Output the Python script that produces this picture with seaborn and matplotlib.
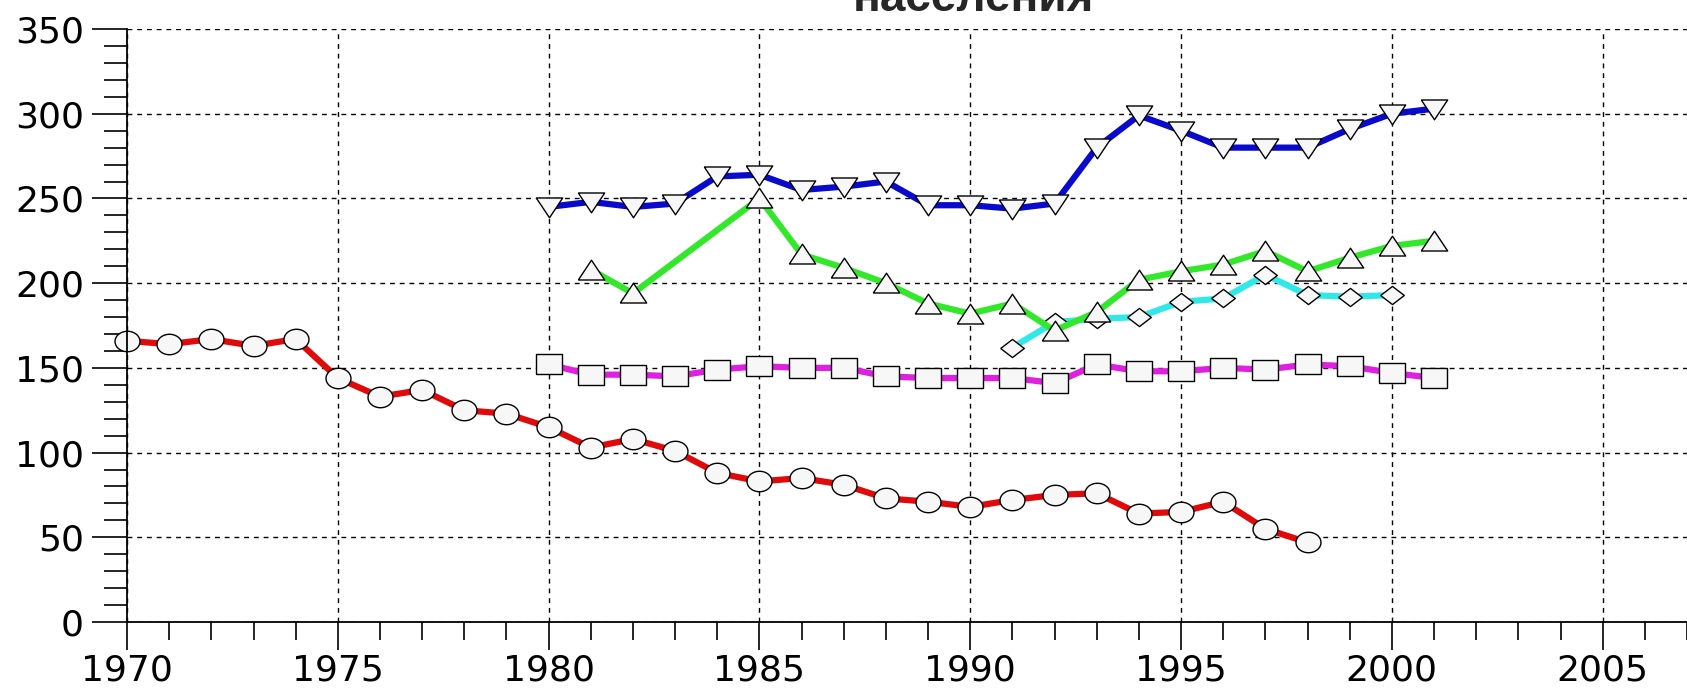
import numpy as np
import matplotlib
matplotlib.use("Agg")
import matplotlib.pyplot as plt
from matplotlib.ticker import MultipleLocator
import seaborn as sns

# --- data ---
years_red = list(range(1970, 1999))
red_vals = [166, 164, 167, 163, 167, 144, 133, 137, 125, 123,
            115, 103, 108, 101, 88, 83, 85, 81, 73, 71,
            68, 72, 75, 76, 64, 65, 71, 55, 47]

years_blue = list(range(1980, 2002))
blue_vals = [245, 248, 245, 247, 263, 264, 255, 257, 260, 246,
             246, 244, 247, 280, 299, 290, 280, 280, 280, 291,
             300, 303]

years_green = [1981, 1982, 1985, 1986, 1987, 1988, 1989, 1990, 1991, 1992,
               1993, 1994, 1995, 1996, 1997, 1998, 1999, 2000, 2001]
green_vals = [208, 194, 250, 217, 209, 200, 188, 182, 188, 172,
              183, 202, 207, 211, 219, 207, 215, 222, 225]

years_cyan = list(range(1991, 2001))
cyan_vals = [162, 177, 179, 180, 189, 191, 205, 193, 192, 193]

years_magenta = list(range(1980, 2002))
magenta_vals = [152, 146, 146, 145, 149, 151, 150, 150, 145, 144,
                144, 144, 141, 152, 148, 148, 150, 149, 152, 151,
                147, 144]

x_major = list(range(1970, 2006, 5))
y_major = list(range(0, 351, 50))

sns.set_style("white")
plt.rcParams["font.family"] = ["DejaVu Sans"]

fig = plt.figure(figsize=(16.87, 6.88), dpi=100)
ax = fig.add_axes([0.0753, 0.0959, 0.9247, 0.8619])

# marker shapes (wider than tall, like the original)
t = np.linspace(0, 2 * np.pi, 40)
ellipse = list(zip(1.22 * np.cos(t), np.sin(t)))
rect = [(-1.35, -1), (1.35, -1), (1.35, 1), (-1.35, 1), (-1.35, -1)]
diamond = [(-1.3, 0), (0, 1), (1.3, 0), (0, -1), (-1.3, 0)]
tri_up = [(-1, -0.72), (1, -0.72), (0, 0.78), (-1, -0.72)]
tri_down = [(-1, 0.72), (1, 0.72), (0, -0.78), (-1, 0.72)]

face = "#f7f7f7"
common = dict(markerfacecolor=face, markeredgecolor="black", markeredgewidth=1.0,
              linewidth=4.5, clip_on=False, ax=ax)

sns.lineplot(x=years_magenta, y=magenta_vals, color="#e020e0", marker=rect, markersize=18.5, **common)
sns.lineplot(x=years_cyan, y=cyan_vals, color="#30e8e8", marker=diamond, markersize=17, **common)
sns.lineplot(x=years_green, y=green_vals, color="#33e82a", marker=tri_up, markersize=19, **common)
sns.lineplot(x=years_blue, y=blue_vals, color="#0a0acc", marker=tri_down, markersize=19, **common)
sns.lineplot(x=years_red, y=red_vals, color="#e00a0a", marker=ellipse, markersize=18, **common)

ax.set_xlim(1970, 2007)
ax.set_ylim(0, 350)
ax.set_xticks(x_major)
ax.set_yticks(y_major)
ax.xaxis.set_minor_locator(MultipleLocator(1))
ax.yaxis.set_minor_locator(MultipleLocator(10))

ax.grid(True, which="major", color="black", linestyle=(0, (3.5, 3.5)), linewidth=1.0)
ax.set_axisbelow(True)

sns.despine(ax=ax, top=True, right=True)
for s in ["left", "bottom"]:
    ax.spines[s].set_color("black")
    ax.spines[s].set_linewidth(1.3)

ax.tick_params(axis="both", which="both", bottom=True, left=True, top=False, right=False,
               direction="out", width=1.2, color="black")
ax.tick_params(axis="both", which="major", labelsize=26, labelcolor="black")
ax.tick_params(axis="y", which="major", length=25, pad=6)
ax.tick_params(axis="y", which="minor", length=16.5)
ax.tick_params(axis="x", which="major", length=20, pad=3)
ax.tick_params(axis="x", which="minor", length=13)
ax.set_xlabel("")
ax.set_ylabel("")

fig.text(0.577, 1 - 11 / 688, "населения", ha="center", va="baseline",
         fontsize=33, fontweight="bold", family=["Liberation Sans", "DejaVu Sans"])

fig.savefig("out.png", dpi=100)
